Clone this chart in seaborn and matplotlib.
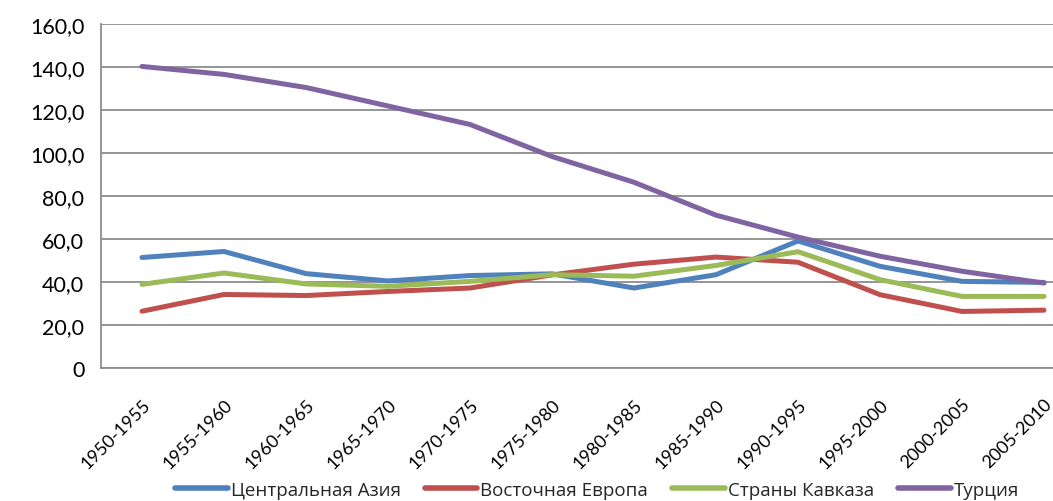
import matplotlib
matplotlib.use("Agg")
import matplotlib.pyplot as plt
import matplotlib.ticker as mticker
import seaborn as sns
import pandas as pd
from matplotlib import font_manager

periods = ["1950-1955", "1955-1960", "1960-1965", "1965-1970", "1970-1975", "1975-1980",
           "1980-1985", "1985-1990", "1990-1995", "1995-2000", "2000-2005", "2005-2010"]
central_asia = [51.4, 54.2, 43.9, 40.5, 43.0, 43.8, 37.2, 43.4, 59.1, 47.3, 40.3, 39.8]
eastern_europe = [26.4, 34.2, 33.7, 35.6, 37.2, 43.3, 48.3, 51.6, 49.2, 34.1, 26.3, 26.9]
caucasus = [38.9, 44.2, 39.1, 38.0, 40.3, 43.4, 42.7, 47.7, 54.1, 41.1, 33.3, 33.3]
turkey = [140.3, 136.6, 130.5, 121.9, 113.3, 98.4, 86.4, 71.1, 60.9, 52.0, 45.0, 39.5]
series_names = ["Центральная Азия", "Восточная Европа", "Страны Кавказа", "Турция"]
colors = ["#4F81BD", "#C0504D", "#9BBB59", "#8064A2"]

rows = []
for name, vals in zip(series_names, [central_asia, eastern_europe, caucasus, turkey]):
    for i, v in enumerate(vals):
        rows.append({"pos": i, "period": periods[i], "value": v, "series": name})
df = pd.DataFrame(rows)

sns.set_theme(style="white")
avail = {f.name for f in font_manager.fontManager.ttflist}
num_font = ["Lato", "DejaVu Sans"] if "Lato" in avail else ["DejaVu Sans"]
leg_font = ["Liberation Sans Narrow", "Open Sans", "DejaVu Sans"]
leg_font = [f for f in leg_font if f in avail] or ["DejaVu Sans"]
plt.rcParams["font.family"] = num_font

fig = plt.figure(figsize=(10.53, 5.02), dpi=100)
ax = fig.add_axes([0.0959, 0.265, 0.9345, 0.685])

sns.lineplot(data=df, x="pos", y="value", hue="series", palette=colors,
             hue_order=series_names, linewidth=3.6, sort=False, ax=ax, legend=False)

ax.set_xlim(-0.5, 11.5)
ax.set_ylim(0, 160)
ax.set_xlabel("")
ax.set_ylabel("")

ax.yaxis.set_major_locator(mticker.MultipleLocator(20))
ax.yaxis.set_major_formatter(mticker.FuncFormatter(
    lambda v, p: "0" if v == 0 else f"{v:.1f}".replace(".", ",")))
ax.yaxis.grid(True, color="#8c8c8c", linewidth=1.3)
ax.set_axisbelow(True)

ax.set_xticks(range(len(periods)))
ax.set_xticklabels(periods, rotation=45, ha="right", va="top", rotation_mode="anchor")
ax.set_xticks([i - 0.5 for i in range(len(periods) + 1)], minor=True)
ax.tick_params(axis="x", which="major", length=0, pad=20, labelsize=13, colors="#000000")
ax.tick_params(axis="x", which="minor", length=5, width=1.3, color="#8c8c8c", direction="out")
ax.tick_params(axis="y", which="major", length=7, width=1.3, color="#8c8c8c",
               direction="out", labelsize=15.5, pad=5, labelcolor="#000000")

for s in ["top", "right"]:
    ax.spines[s].set_visible(False)
for s in ["left", "bottom"]:
    ax.spines[s].set_color("#8c8c8c")
    ax.spines[s].set_linewidth(1.3)

handles = [plt.Line2D([], [], color=c, linewidth=4) for c in colors]
fig.legend(handles, series_names, loc="center", bbox_to_anchor=(0.567, 0.022), ncol=4,
           frameon=False, handlelength=2.8, handletextpad=0.15, columnspacing=1.3,
           prop={"family": leg_font, "size": 13.5})

fig.savefig("out.png", dpi=100)
